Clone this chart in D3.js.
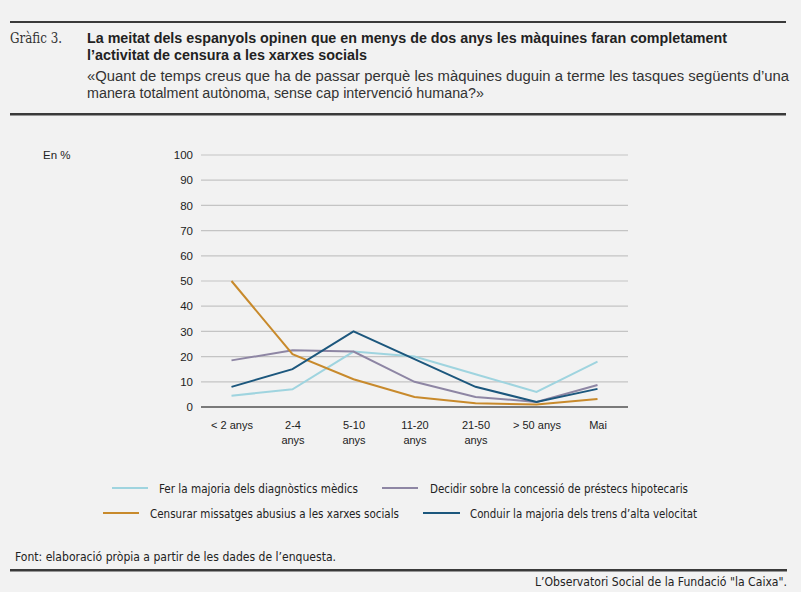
<!DOCTYPE html>
<html><head><meta charset="utf-8">
<script src="https://cdn.jsdelivr.net/npm/d3@7"></script>
<style>
html,body{margin:0;padding:0;background:#f2f2f2;}
svg{display:block;}
</style></head>
<body>
<script>
const categories = ["< 2 anys", "2-4 anys", "5-10 anys", "11-20 anys", "21-50 anys", "> 50 anys", "Mai"];
const categoryLabels = [["< 2 anys"], ["2-4", "anys"], ["5-10", "anys"], ["11-20", "anys"], ["21-50", "anys"], ["> 50 anys"], ["Mai"]];
const seriesNames = [
  "Fer la majoria dels diagnòstics mèdics",
  "Decidir sobre la concessió de préstecs hipotecaris",
  "Censurar missatges abusius a les xarxes socials",
  "Conduir la majoria dels trens d’alta velocitat"
];
const diagnostics = [4.5, 7, 22, 20, 13, 6, 18];
const hipotecaris = [18.5, 22.5, 22, 10, 4, 2, 8.7];
const censura = [50, 21, 11, 4, 1.5, 1, 3.2];
const trens = [8, 15, 30, 19, 8, 2, 7.2];
const yTicks = [0, 10, 20, 30, 40, 50, 60, 70, 80, 90, 100];
const colors = ["#9fd4df", "#8e86a4", "#c88a2c", "#1c577d"];

const W = 801, H = 592;
const svg = d3.select("body").append("svg").attr("width", W).attr("height", H);
svg.append("rect").attr("width", W).attr("height", H).attr("fill", "#f2f2f2");

const sans = "'Liberation Sans', Arial, sans-serif";
const narrow = "'Liberation Sans Narrow', 'DejaVu Sans Condensed', 'Liberation Sans', sans-serif";

// header rules
svg.append("rect").attr("x", 10).attr("y", 21).attr("width", 776).attr("height", 2).attr("fill", "#3a3a3a");
svg.append("rect").attr("x", 10).attr("y", 113).attr("width", 776).attr("height", 2.5).attr("fill", "#3a3a3a");

svg.append("text").attr("x", 10).attr("y", 43).attr("font-family", "'DejaVu Serif', 'Liberation Serif', serif")
  .attr("font-size", 14.5).attr("fill", "#333").attr("textLength", 52).attr("lengthAdjust", "spacingAndGlyphs")
  .text("Gràfic 3.");

const titleLines = [
  ["La meitat dels espanyols opinen que en menys de dos anys les màquines faran completament", 43, 640],
  ["l’activitat de censura a les xarxes socials", 60, 280]
];
titleLines.forEach(([t, y, w]) => {
  svg.append("text").attr("x", 87).attr("y", y).attr("font-family", sans).attr("font-weight", "bold")
    .attr("font-size", 14.5).attr("fill", "#222").attr("textLength", w).attr("lengthAdjust", "spacingAndGlyphs").text(t);
});
const subLines = [
  ["«Quant de temps creus que ha de passar perquè les màquines duguin a terme les tasques següents d’una", 81, 702],
  ["manera totalment autònoma, sense cap intervenció humana?»", 98, 397]
];
subLines.forEach(([t, y, w]) => {
  svg.append("text").attr("x", 87).attr("y", y).attr("font-family", sans)
    .attr("font-size", 14).attr("fill", "#333").attr("textLength", w).attr("lengthAdjust", "spacingAndGlyphs").text(t);
});

// chart
const x = d3.scalePoint().domain(categories).range([201, 628]).padding(0.5);
const y = d3.scaleLinear().domain([0, 100]).range([407, 155]);

svg.append("text").attr("x", 43).attr("y", 159).attr("font-family", sans).attr("font-size", 11.5)
  .attr("fill", "#222").text("En %");

const grid = svg.append("g");
yTicks.forEach(v => {
  if (v === 0) return;
  grid.append("line").attr("x1", 201).attr("x2", 628).attr("y1", y(v)).attr("y2", y(v))
    .attr("stroke", "#c4c4c4").attr("stroke-width", 1.2);
});
const yAxis = d3.axisLeft(y).tickValues(yTicks).tickSize(0).tickPadding(8).tickFormat(d3.format("d"));
const yg = svg.append("g").attr("transform", "translate(201,0)").call(yAxis);
yg.select(".domain").remove();
yg.selectAll("text").attr("font-family", sans).attr("font-size", 11.5).attr("fill", "#222");

const xAxis = d3.axisBottom(x).tickSize(0).tickFormat(() => "");
const xg = svg.append("g").attr("transform", "translate(0,407)").call(xAxis);
xg.select(".domain").remove();
xg.selectAll(".tick").each(function(d, i) {
  const t = d3.select(this).append("text").attr("font-family", sans).attr("font-size", 11)
    .attr("fill", "#222").attr("text-anchor", "middle").attr("y", 22);
  categoryLabels[i].forEach((s, j) => t.append("tspan").attr("x", 0).attr("dy", j === 0 ? 0 : 14.5).text(s));
});

const data = [diagnostics, hipotecaris, censura, trens];
const line = d3.line().x((d, i) => x(categories[i])).y(d => y(d));
data.forEach((s, k) => {
  svg.append("path").datum(s).attr("d", line).attr("fill", "none").attr("stroke", colors[k])
    .attr("stroke-width", 2).attr("stroke-linejoin", "miter");
});
svg.append("line").attr("x1", 201).attr("x2", 628).attr("y1", 407).attr("y2", 407)
  .attr("stroke", "#7a7a7a").attr("stroke-width", 2);

// legend
const legendItems = [
  {i: 0, x1: 112, x2: 148, tx: 159, y: 488, w: 199},
  {i: 1, x1: 382, x2: 418, tx: 430, y: 488, w: 258},
  {i: 2, x1: 103, x2: 139, tx: 150, y: 513, w: 249},
  {i: 3, x1: 423, x2: 460, tx: 470, y: 513, w: 227}
];
legendItems.forEach(o => {
  svg.append("line").attr("x1", o.x1).attr("x2", o.x2).attr("y1", o.y).attr("y2", o.y)
    .attr("stroke", colors[o.i]).attr("stroke-width", 2);
  svg.append("text").attr("x", o.tx).attr("y", o.y + 4.5).attr("font-family", narrow).attr("font-size", 12.5)
    .attr("fill", "#222").attr("textLength", o.w).attr("lengthAdjust", "spacingAndGlyphs").text(seriesNames[o.i]);
});

// footer
svg.append("text").attr("x", 15).attr("y", 561).attr("font-family", narrow).attr("font-size", 12.5)
  .attr("fill", "#222").attr("textLength", 321).attr("lengthAdjust", "spacingAndGlyphs")
  .text("Font: elaboració pròpia a partir de les dades de l’enquesta.");
svg.append("rect").attr("x", 10).attr("y", 569).attr("width", 777).attr("height", 2.5).attr("fill", "#3a3a3a");
svg.append("text").attr("x", 787).attr("y", 586).attr("text-anchor", "end").attr("font-family", narrow).attr("font-size", 12.5)
  .attr("fill", "#222").attr("textLength", 252).attr("lengthAdjust", "spacingAndGlyphs")
  .text("L’Observatori Social de la Fundació \"la Caixa\".");
</script>
</body></html>
